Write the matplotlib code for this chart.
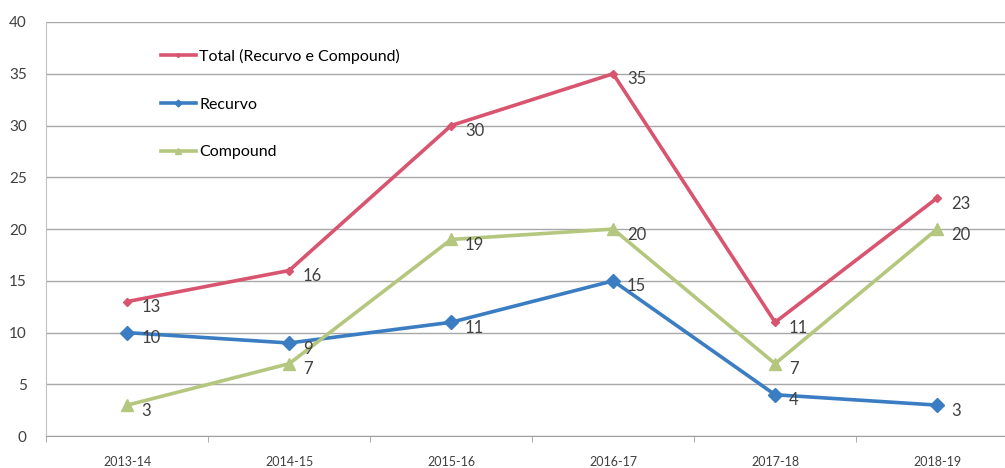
import matplotlib.pyplot as plt
import numpy as np

plt.rcParams['font.family'] = ['Lato', 'DejaVu Sans']

seasons = ['2013-14', '2014-15', '2015-16', '2016-17', '2017-18', '2018-19']
total = [13, 16, 30, 35, 11, 23]
recurvo = [10, 9, 11, 15, 4, 3]
compound = [3, 7, 19, 20, 7, 20]

series = [
    ('Total (Recurvo e Compound)', total, '#D9556F', 'D', 4),
    ('Recurvo', recurvo, '#3B7DC2', 'D', 7),
    ('Compound', compound, '#B5C77E', '^', 9),
]

fig = plt.figure(figsize=(10.05, 4.68), dpi=100)
ax = fig.add_axes([0.046, 0.068, 0.967, 0.885])

x = np.arange(len(seasons))
for name, vals, col, mk, ms in series:
    ax.plot(x, vals, color=col, lw=2.6, marker=mk, markersize=ms, label=name)
    for xi, v in zip(x, vals):
        ax.annotate(str(v), (xi, v), xytext=(10, -4), textcoords='offset points',
                    ha='left', va='center', fontsize=12, color='#404040')

ax.set_xlim(-0.5, 5.5)
ax.set_ylim(0, 40)
ax.set_yticks(range(0, 41, 5))
ax.set_xticks(x)
ax.set_xticklabels(seasons, fontsize=9, color='#404040')
ax.set_xticks(np.arange(-0.5, 6, 1), minor=True)
ax.tick_params(axis='x', which='major', length=0, pad=14)
ax.tick_params(axis='x', which='minor', length=4, color='#A0A0A0')
ax.tick_params(axis='y', length=0, labelsize=11, labelcolor='#404040', pad=14)
ax.grid(axis='y', color='#A8A8A8', lw=1)
ax.set_axisbelow(True)
for s in ['top', 'right']:
    ax.spines[s].set_visible(False)
ax.spines['left'].set_color('#C0C0C0')
ax.spines['bottom'].set_color('#A0A0A0')

ax.legend(loc='upper left', bbox_to_anchor=(0.103, 0.97), frameon=False,
          fontsize=11.5, labelspacing=2.1, handlelength=2.2, handletextpad=0.2,
          markerscale=0.5)

fig.savefig('out.png', dpi=100)
